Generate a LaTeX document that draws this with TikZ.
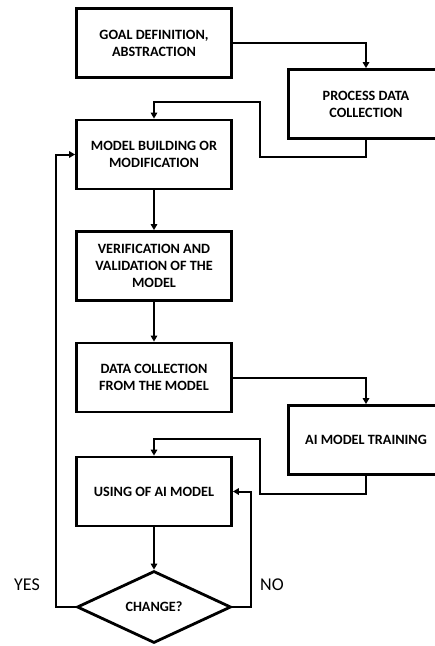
\documentclass[tikz,border=0pt]{standalone}
\usepackage{fontspec}
\setmainfont{Carlito}
\usetikzlibrary{arrows.meta,shapes.geometric}
\tikzset{
  stepbox/.style={draw, line width=2.8pt, minimum width=155pt, minimum height=69pt,
    inner sep=0pt, align=center, font=\fontsize{14.2}{17}\selectfont\bfseries},
  decision/.style={draw, diamond, line width=2.8pt, minimum width=154pt, minimum height=72pt,
    inner sep=0pt, aspect=2.1, font=\fontsize{14.2}{17}\selectfont\bfseries},
  conn/.style={line width=2pt, -{Triangle[length=6pt,width=6.5pt]}},
  plain/.style={line width=2pt},
  answer/.style={font=\fontsize{18}{21}\selectfont}
}
\begin{document}
\begin{tikzpicture}[x=1pt,y=-1pt]
\useasboundingbox (0,0) rectangle (435,646);
\clip (0,0) rectangle (435,646);
% process steps
\node[stepbox] (goal)  at (154,43)    {GOAL DEFINITION,\\ABSTRACTION};
\node[stepbox] (proc)  at (366,104)   {PROCESS DATA\\COLLECTION};
\node[stepbox] (model) at (154,154.5) {MODEL BUILDING OR\\MODIFICATION};
\node[stepbox] (verif) at (154,266)   {VERIFICATION AND\\VALIDATION OF THE\\MODEL};
\node[stepbox] (data)  at (154,377.5) {DATA COLLECTION\\FROM THE MODEL};
\node[stepbox] (train) at (366,440)   {AI MODEL TRAINING};
\node[stepbox] (use)   at (154,491.5) {USING OF AI MODEL};
\node[decision] (dec)  at (154,607)   {CHANGE?};
% answer labels
\node[answer] (yes) at (27,585) {YES};
\node[answer] (no)  at (272,585) {NO};
% bend points of the return lines
\coordinate (p1) at (260,157);
\coordinate (p2) at (260,102);
\coordinate (t1) at (260,494);
\coordinate (t2) at (260,439);
% connectors
\draw[conn] (goal.east) -| (proc.north);
\draw[conn] (proc.south) |- (p1) -- (p2) -| (model.north);
\draw[conn] (model.south) -- (verif.north);
\draw[conn] (verif.south) -- (data.north);
\draw[conn] (data.east) -| (train.north);
\draw[conn] (train.south) |- (t1) -- (t2) -| (use.north);
\draw[conn] (use.south) -- (dec.north);
\draw[conn] (dec.west) -- ++(-20,0) |- (model.west);
\draw[conn] (dec.east) -- ++(19,0) |- (use.east);
\end{tikzpicture}
\end{document}
